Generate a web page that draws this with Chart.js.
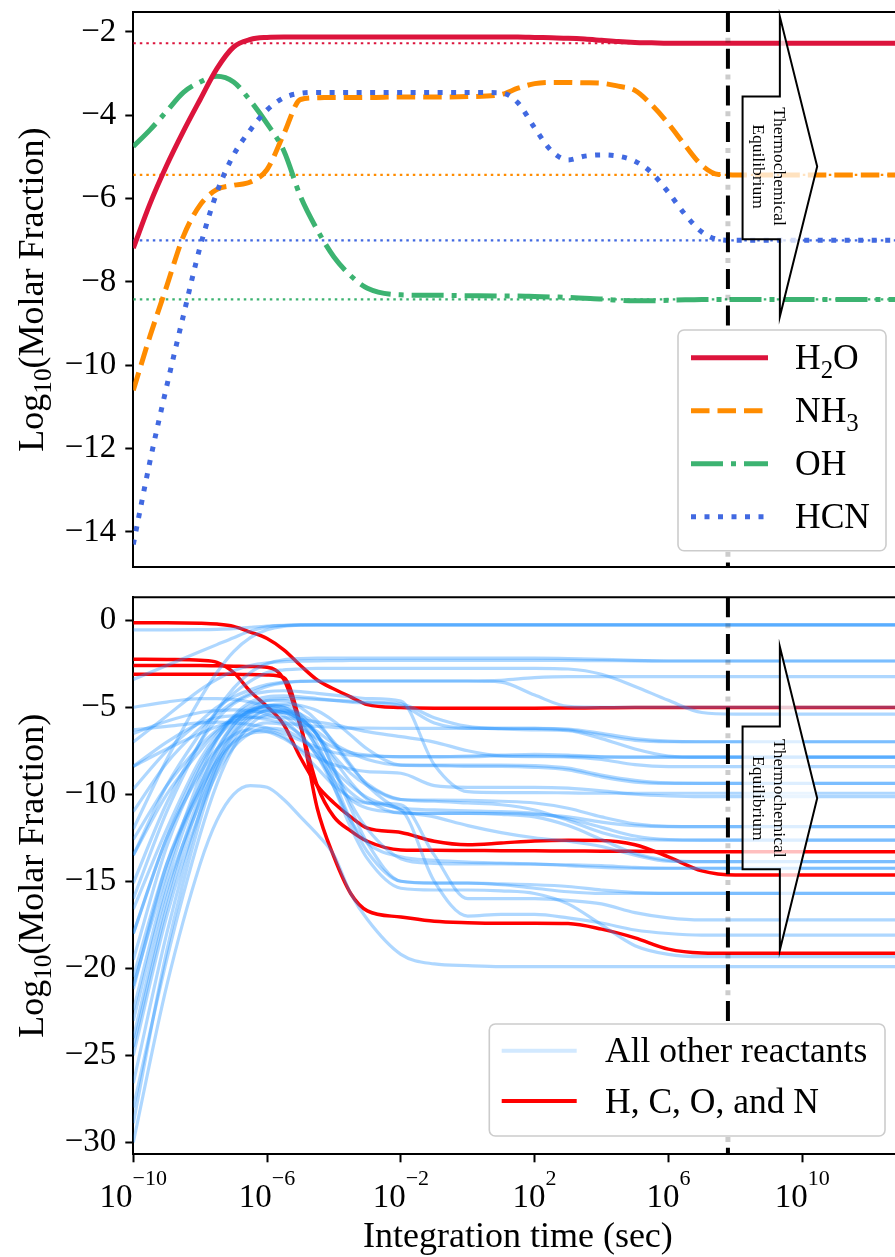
<!DOCTYPE html>
<html>
<head>
<meta charset="utf-8">
<title>Molar fraction vs integration time</title>
<script src="https://cdn.jsdelivr.net/npm/chart.js@4.4.1/dist/chart.umd.min.js"></script>
<style>
  html, body { margin: 0; padding: 0; background: #fff; overflow: hidden; }
  #wrap { position: relative; width: 910px; height: 1257px; }
  canvas { position: absolute; left: 0; }
  #topChart { top: 0; }
  #bottomChart { top: 582px; }
</style>
</head>
<body>
<div id="wrap">
  <canvas id="topChart" width="910" height="582"></canvas>
  <canvas id="bottomChart" width="910" height="675"></canvas>
</div>
<script>
// ---------- data (time given as log10 of seconds) ----------
const xTickExps = [-10, -6, -2, 2, 6, 10];
const yTicksTop = [-14, -12, -10, -8, -6, -4, -2];
const yTicksBottom = [-30, -25, -20, -15, -10, -5, 0];

// top panel: selected species
const tTop = [-10, -9.5, -9, -8.5, -8, -7.5, -7, -6.5, -6, -5.5, -5, -4.5, -4, -3.5, -3,
  -2, -1, 0, 1, 1.5, 2, 2.5, 3, 3.5, 4, 4.5, 5, 5.5, 6, 6.5, 7, 7.5, 8, 13];
const h2o = [-7.19, -6.12, -5.2, -4.38, -3.62, -2.88, -2.36, -2.18, -2.13, -2.12, -2.12, -2.12, -2.12, -2.12, -2.12,
  -2.12, -2.12, -2.12, -2.12, -2.12, -2.13, -2.14, -2.15, -2.17, -2.2, -2.23, -2.25, -2.26, -2.27, -2.27, -2.27, -2.27, -2.27, -2.27];
const nh3 = [-10.6, -9.3, -8.1, -6.9, -6.15, -5.78, -5.68, -5.6, -5.3, -4.45, -3.62, -3.58, -3.57, -3.57, -3.57,
  -3.56, -3.56, -3.55, -3.5, -3.35, -3.24, -3.21, -3.21, -3.22, -3.23, -3.3, -3.4, -3.75, -4.2, -4.72, -5.2, -5.42, -5.43, -5.43];
const oh = [-4.75, -4.35, -3.9, -3.45, -3.2, -3.06, -3.2, -3.65, -4.2, -4.85, -5.95, -6.75, -7.4, -7.85, -8.15,
  -8.31, -8.32, -8.33, -8.34, -8.34, -8.35, -8.36, -8.37, -8.39, -8.41, -8.44, -8.45, -8.45, -8.44, -8.43, -8.42, -8.42, -8.42, -8.42];
const hcn = [-14.3, -12.3, -10.5, -8.8, -7.15, -5.85, -4.95, -4.35, -3.87, -3.58, -3.47, -3.45, -3.45, -3.45, -3.45,
  -3.45, -3.45, -3.45, -3.46, -3.7, -4.3, -4.85, -5.07, -4.98, -4.95, -4.98, -5.1, -5.38, -5.85, -6.38, -6.8, -6.98, -7.0, -7.0];
// equilibrium levels for H2O, NH3, OH, HCN
const eqLevels = [-2.27, -5.43, -8.42, -7.0];
const eqTime = 7.78;

// bottom panel: every reactant
const tBottom = [-10, -9, -8, -7.5, -7, -6.5, -6, -5.5, -5, -4.5, -4, -3.5, -3, -2, -1, 0, 1, 2, 3, 4, 5, 6, 7, 8, 13];
const hconLines = [
  [-0.14, -0.14, -0.17, -0.22, -0.35, -0.68, -1.05, -1.7, -2.6, -3.43, -3.95, -4.4, -4.85, -5.02, -5.05, -5.05, -5.05, -5.05, -5.04, -5.03, -5.02, -5.02, -5.02, -5.02, -5.02],
  [-2.24, -2.25, -2.3, -2.42, -3.0, -4.1, -4.95, -6.0, -7.9, -9.5, -10.5, -11.3, -11.95, -12.2, -12.7, -12.9, -12.8, -12.68, -12.64, -12.65, -12.9, -13.6, -14.4, -14.64, -14.64],
  [-2.6, -2.6, -2.6, -2.62, -2.64, -2.66, -2.7, -3.4, -6.1, -9.5, -11.3, -12.1, -12.7, -13.2, -13.22, -13.23, -13.24, -13.25, -13.26, -13.27, -13.28, -13.3, -13.3, -13.3, -13.3],
  [-3.1, -3.1, -3.1, -3.1, -3.1, -3.12, -3.15, -3.3, -6.0, -10.8, -13.6, -15.7, -16.7, -17.05, -17.3, -17.38, -17.41, -17.41, -17.43, -17.75, -18.25, -18.9, -19.12, -19.14, -19.14]
];
const otherLines = [
  [-0.55, -0.55, -0.54, -0.52, -0.48, -0.4, -0.33, -0.29, -0.27, -0.27, -0.27, -0.27, -0.27, -0.27, -0.27, -0.27, -0.27, -0.27, -0.27, -0.27, -0.27, -0.27, -0.27, -0.27, -0.27],
  [-3.4, -2.6, -1.8, -1.4, -1.0, -0.62, -0.38, -0.3, -0.27, -0.27, -0.27, -0.27, -0.27, -0.27, -0.27, -0.27, -0.27, -0.27, -0.27, -0.27, -0.27, -0.27, -0.27, -0.27, -0.27],
  [-16, -11, -7, -5.2, -3.9, -3.0, -2.5, -2.27, -2.2, -2.18, -2.18, -2.18, -2.18, -2.18, -2.18, -2.18, -2.18, -2.18, -2.2, -2.25, -2.3, -2.34, -2.34, -2.34, -2.34],
  [-13.5, -9.5, -6.5, -5.2, -4.2, -3.5, -3.0, -2.85, -2.8, -2.77, -2.76, -2.76, -2.76, -2.76, -2.76, -2.76, -2.76, -2.76, -2.8, -3.1, -3.8, -4.6, -5.3, -5.39, -5.39],
  [-9.7, -7.5, -5.8, -5.0, -4.4, -4.0, -3.7, -3.55, -3.5, -3.49, -3.49, -3.49, -3.49, -3.49, -3.49, -3.49, -3.45, -3.3, -3.24, -3.24, -3.24, -3.24, -3.24, -3.24, -3.24],
  [-11, -8.2, -6.2, -5.4, -4.7, -4.2, -3.8, -3.6, -3.52, -3.5, -3.49, -3.49, -3.49, -3.49, -3.49, -3.49, -3.55, -4.3, -4.95, -5.0, -5.0, -5.0, -5.0, -5.0, -5.0],
  [-19.5, -13, -8.5, -6.8, -5.5, -4.7, -4.4, -4.35, -4.4, -4.5, -4.6, -4.7, -4.75, -4.9, -5.9, -6.2, -6.21, -6.21, -6.25, -6.5, -6.8, -6.95, -6.98, -6.98, -6.98],
  [-21.2, -14, -9.5, -7.5, -6, -5.1, -4.6, -4.5, -4.5, -4.55, -4.6, -4.65, -4.7, -4.8, -5.6, -6.1, -6.25, -6.3, -6.35, -6.8, -7.4, -7.8, -7.87, -7.87, -7.87],
  [-15.1, -10.5, -7, -5.7, -4.8, -4.3, -4.1, -4.05, -4.1, -4.2, -4.3, -4.4, -4.5, -4.65, -8.3, -9.85, -9.9, -9.9, -9.92, -9.94, -9.94, -9.94, -9.94, -9.94, -9.94],
  [-8.4, -7.4, -6.5, -6.1, -5.8, -5.6, -5.55, -5.6, -5.7, -5.85, -6.0, -6.2, -6.4, -6.69, -7.0, -7.5, -7.8, -7.84, -7.86, -8.0, -8.3, -8.41, -8.41, -8.41, -8.41],
  [-6.3, -6.1, -5.9, -5.85, -5.9, -6.0, -6.2, -6.5, -6.9, -7.3, -7.6, -7.75, -7.8, -7.84, -7.84, -7.8, -7.75, -7.7, -7.75, -7.85, -7.87, -7.87, -7.87, -7.87, -7.87],
  [-16.6, -12, -8.0, -6.6, -5.6, -5.1, -5.0, -5.2, -5.7, -6.4, -7.1, -7.6, -8.0, -8.32, -8.32, -8.32, -8.32, -8.35, -8.5, -8.9, -9.2, -9.35, -9.37, -9.37, -9.37],
  [-18, -12.5, -8.8, -7.4, -6.6, -6.3, -6.4, -6.8, -7.4, -7.9, -8.3, -8.55, -8.7, -8.79, -9.5, -9.6, -9.6, -9.6, -9.65, -9.8, -10.0, -10.1, -10.14, -10.14, -10.14],
  [-22.4, -15, -9.5, -7.4, -6.0, -5.2, -4.9, -5.0, -5.6, -6.6, -7.8, -8.8, -9.5, -10.3, -10.33, -10.35, -10.4, -10.5, -10.8, -11.3, -11.7, -11.85, -11.86, -11.86, -11.86],
  [-25, -17, -11, -8.8, -7.3, -6.5, -6.2, -6.3, -6.8, -7.6, -8.6, -9.5, -10.2, -10.8, -10.9, -10.95, -11.0, -11.1, -11.4, -11.9, -12.4, -12.6, -12.63, -12.63, -12.63],
  [-28.9, -19, -11.5, -8.6, -6.8, -5.7, -5.2, -5.2, -5.6, -6.6, -8.0, -9.3, -10.3, -11.09, -11.1, -11.1, -11.15, -11.3, -11.8, -12.6, -13.4, -13.8, -13.87, -13.87, -13.87],
  [-13.5, -10, -7.5, -6.4, -5.7, -5.3, -5.2, -5.3, -5.7, -6.6, -8.5, -10.5, -12, -13.7, -13.97, -14.0, -14.0, -14.02, -14.05, -14.1, -14.2, -14.25, -14.25, -14.25, -14.25],
  [-26.6, -18, -11, -8.3, -6.5, -5.4, -4.9, -4.9, -5.4, -6.6, -8.6, -10.8, -12.8, -15.0, -15.11, -15.11, -15.15, -15.2, -15.3, -15.5, -15.65, -15.69, -15.69, -15.69, -15.69],
  [-20.5, -14, -9.8, -8.1, -7.0, -6.5, -6.4, -6.7, -7.5, -8.5, -9.5, -10.2, -10.5, -10.6, -13.5, -16.0, -16.0, -16.0, -16.1, -16.3, -16.8, -17.1, -17.22, -17.22, -17.22],
  [-24.5, -16.5, -10.3, -8, -6.5, -5.6, -5.2, -5.3, -6.0, -7.3, -8.8, -9.9, -10.5, -10.9, -15.0, -17.0, -16.9, -16.9, -17.1, -17.4, -17.8, -18.0, -18.09, -18.09, -18.09],
  [-30, -21, -14, -11.5, -10, -9.5, -9.6, -10.3, -11.3, -12.3, -13.5, -15.7, -17.2, -19.2, -19.75, -19.85, -19.9, -19.9, -19.9, -19.9, -19.9, -19.9, -19.9, -19.9, -19.9],
  [-24, -16, -10, -7.8, -6.2, -5.3, -4.9, -5.0, -5.8, -7.4, -9.6, -11.9, -13.7, -15.4, -15.5, -15.5, -15.55, -15.7, -16.3, -17.5, -18.7, -19.2, -19.33, -19.33, -19.33],
  [-7, -5.5, -4.0, -3.4, -2.9, -2.6, -2.45, -2.38, -2.35, -2.33, -2.32, -2.31, -2.3, -2.3, -2.3, -2.3, -2.3, -2.3, -2.31, -2.32, -2.33, -2.34, -2.34, -2.34, -2.34],
  [-12, -8, -4.5, -3, -1.8, -1.0, -0.55, -0.35, -0.28, -0.27, -0.27, -0.27, -0.27, -0.27, -0.27, -0.27, -0.27, -0.27, -0.27, -0.27, -0.27, -0.27, -0.27, -0.27, -0.27],
  [-8.4, -7, -5.9, -5.6, -5.5, -5.55, -5.7, -5.9, -6.0, -6.1, -6.15, -6.2, -6.2, -6.21, -6.21, -6.21, -6.21, -6.21, -6.3, -6.6, -6.9, -6.98, -6.98, -6.98, -6.98],
  [-5, -4.7, -4.5, -4.5, -4.55, -4.7, -5.0, -5.5, -6.2, -6.8, -7.3, -7.6, -7.75, -7.85, -7.85, -7.85, -7.8, -7.8, -7.82, -7.85, -7.87, -7.87, -7.87, -7.87, -7.87],
  [-6.5, -5.8, -5.3, -5.2, -5.15, -5.2, -5.4, -5.8, -6.6, -7.8, -9.2, -10.3, -10.8, -11.05, -11.1, -11.1, -11.1, -11.15, -11.3, -11.6, -11.8, -11.86, -11.86, -11.86, -11.86],
  [-12.6, -9.5, -7.2, -6.3, -5.6, -5.2, -5.1, -5.15, -5.4, -6, -7, -8.3, -9.5, -10.9, -11.3, -11.8, -12.2, -12.5, -12.7, -13.0, -13.5, -13.85, -13.87, -13.87, -13.87],
  [-18, -12.5, -8.3, -6.8, -5.8, -5.2, -4.9, -4.8, -4.9, -5.2, -5.8, -6.6, -7.4, -8.32, -8.35, -8.4, -8.4, -8.45, -8.6, -9.0, -9.3, -9.37, -9.37, -9.37, -9.37],
  [-21, -14.5, -9.0, -6.9, -5.6, -4.9, -4.6, -4.6, -5.0, -5.8, -7.1, -8.4, -9.4, -10.3, -10.4, -10.5, -10.6, -10.9, -11.5, -12.2, -12.6, -12.63, -12.63, -12.63, -12.63],
  [-23, -15.5, -10.5, -8.4, -7.0, -6.2, -5.9, -6.0, -6.6, -7.8, -9.6, -11.5, -12.8, -13.6, -13.8, -13.9, -13.95, -14.0, -14.1, -14.2, -14.25, -14.25, -14.25, -14.25, -14.25],
  [-28, -19.5, -12.3, -9.4, -7.3, -6.0, -5.4, -5.3, -5.8, -7.1, -9.2, -11.5, -13.3, -15.0, -15.1, -15.1, -15.2, -15.4, -15.6, -15.7, -15.69, -15.69, -15.69, -15.69, -15.69]
];

// ---------- styling ----------
const SERIF = "'Liberation Serif', 'Times New Roman', Times, serif";
const font = px => px + 'px ' + SERIF;
const TICK_SIZE = 33, LABEL_SIZE = 36, LEGEND_SIZE = 35.5;
const X_MIN = -10, X_MAX = 13;

const topStyles = [
  { parts: [['H'], ['2', 'sub'], ['O']], color: '#DC143C', dash: [], order: 2 },
  { parts: [['NH'], ['3', 'sub']], color: '#FF8C00', dash: [18.5, 8], order: 4 },
  { parts: [['OH']], color: '#3CB371', dash: [32, 8, 5, 8], order: 3 },
  { parts: [['HCN']], color: '#4169E1', dash: [5, 8.5], order: 1 }
];
const OTHER_COLOR = 'rgba(30,144,255,0.36)';
const HCON_COLOR = '#ff0000';

const xy = (times, vals) => times.map((e, i) => ({ x: Math.pow(10, e), y: vals[i] }));

// ---------- drawing helpers ----------
function runWidth(ctx, parts, size) {
  let w = 0;
  for (const [txt, kind] of parts) {
    ctx.font = font(kind ? size * 0.7 : size);
    w += ctx.measureText(txt).width;
  }
  return w;
}

function drawRun(ctx, parts, x, y, size) {
  ctx.textAlign = 'left';
  ctx.textBaseline = 'alphabetic';
  for (const [txt, kind] of parts) {
    const s = kind ? size * 0.7 : size;
    const dy = kind === 'sub' ? size * 0.23 : 0;
    ctx.font = font(s);
    ctx.fillText(txt, x, y + dy);
    x += ctx.measureText(txt).width;
  }
}

function drawEqLine(chart) {
  const { ctx, chartArea: a, scales } = chart;
  const x = scales.x.getPixelForValue(Math.pow(10, eqTime));
  ctx.save();
  ctx.lineWidth = 5;
  ctx.strokeStyle = 'rgba(0,0,0,0.2)';
  ctx.setLineDash([5, 31.7]);
  ctx.lineDashOffset = 10.85;
  ctx.beginPath(); ctx.moveTo(x, a.top); ctx.lineTo(x, a.bottom); ctx.stroke();
  ctx.lineWidth = 4;
  ctx.strokeStyle = '#000';
  ctx.setLineDash([20, 16.7]);
  ctx.lineDashOffset = 0;
  ctx.beginPath(); ctx.moveTo(x, a.top); ctx.lineTo(x, a.bottom); ctx.stroke();
  ctx.restore();
}

function drawArrow(chart, ar) {
  const { ctx, scales } = chart;
  const X = e => scales.x.getPixelForValue(Math.pow(10, e));
  const Y = v => scales.y.getPixelForValue(v);
  ctx.save();
  ctx.beginPath();
  ctx.moveTo(X(ar.x0), Y(ar.shaftTop));
  ctx.lineTo(X(ar.x1), Y(ar.shaftTop));
  ctx.lineTo(X(ar.x1), Y(ar.headTop));
  ctx.lineTo(X(ar.x2), Y(ar.tip));
  ctx.lineTo(X(ar.x1), Y(ar.headBot));
  ctx.lineTo(X(ar.x1), Y(ar.shaftBot));
  ctx.lineTo(X(ar.x0), Y(ar.shaftBot));
  ctx.closePath();
  ctx.fillStyle = 'rgba(255,255,255,0.75)';
  ctx.fill();
  ctx.lineWidth = 2;
  ctx.lineJoin = 'miter';
  ctx.strokeStyle = '#000';
  ctx.stroke();
  // rotated caption
  ctx.translate(X(ar.textX), Y(ar.tip));
  ctx.rotate(Math.PI / 2);
  ctx.fillStyle = '#000';
  ctx.font = font(17.5);
  ctx.textAlign = 'center';
  ctx.textBaseline = 'middle';
  ctx.fillText('Thermochemical', 0, -10.6);
  ctx.fillText('Equilibrium', 0, 10.6);
  ctx.restore();
}

function roundRectPath(ctx, x, y, w, h, r) {
  ctx.beginPath();
  ctx.moveTo(x + r, y);
  ctx.arcTo(x + w, y, x + w, y + h, r);
  ctx.arcTo(x + w, y + h, x, y + h, r);
  ctx.arcTo(x, y + h, x, y, r);
  ctx.arcTo(x, y, x + w, y, r);
  ctx.closePath();
}

function drawLegend(chart, lg) {
  const { ctx, chartArea: a } = chart;
  const left = a.right - lg.right - lg.w;
  const top = a.bottom - lg.bottom - lg.h;
  ctx.save();
  roundRectPath(ctx, left, top, lg.w, lg.h, 6);
  ctx.fillStyle = '#fff';
  ctx.fill();
  ctx.lineWidth = 1.6;
  ctx.strokeStyle = '#cccccc';
  ctx.stroke();
  lg.items.forEach((it, i) => {
    const y = top + lg.row0 + i * lg.step;
    ctx.beginPath();
    ctx.setLineDash(it.dash || []);
    ctx.lineWidth = it.width;
    ctx.strokeStyle = it.color;
    ctx.moveTo(left + lg.lineX, y);
    ctx.lineTo(left + lg.lineX + lg.lineLen, y);
    ctx.stroke();
    ctx.setLineDash([]);
    ctx.fillStyle = '#000';
    drawRun(ctx, it.parts, left + lg.textX, y + 0.33 * LEGEND_SIZE, LEGEND_SIZE);
  });
  ctx.restore();
}

function drawFrameAndTitles(chart, withXLabels) {
  const { ctx, chartArea: a, scales } = chart;
  ctx.save();
  // top and right spines
  ctx.strokeStyle = '#000';
  ctx.lineWidth = 2;
  ctx.beginPath();
  ctx.moveTo(a.left, a.top);
  ctx.lineTo(a.right, a.top);
  ctx.lineTo(a.right, a.bottom);
  ctx.stroke();

  // y title, rotated
  const yParts = [['Log'], ['10', 'sub'], ['(Molar Fraction)']];
  ctx.fillStyle = '#000';
  const w = runWidth(ctx, yParts, LABEL_SIZE);
  ctx.save();
  ctx.translate(43, (a.top + a.bottom) / 2);
  ctx.rotate(-Math.PI / 2);
  drawRun(ctx, yParts, -w / 2, 0, LABEL_SIZE);
  ctx.restore();

  if (withXLabels) {
    // power-of-ten tick labels
    const base = a.bottom + 52.4;
    xTickExps.forEach(e => {
      const px = scales.x.getPixelForValue(Math.pow(10, e));
      const sup = (e < 0 ? '\u2212' : '') + Math.abs(e);
      ctx.font = font(TICK_SIZE);
      const wb = ctx.measureText('10').width;
      ctx.font = font(22);
      const ws = ctx.measureText(sup).width;
      const x0 = px - (wb + ws) / 2;
      ctx.textAlign = 'left';
      ctx.textBaseline = 'alphabetic';
      ctx.font = font(TICK_SIZE);
      ctx.fillText('10', x0, base);
      ctx.font = font(22);
      ctx.fillText(sup, x0 + wb, base - 21.7);
    });
    ctx.font = font(LABEL_SIZE);
    ctx.textAlign = 'center';
    ctx.fillText('Integration time (sec)', (a.left + a.right) / 2, a.bottom + 92.7);
  }
  ctx.restore();
}

function panelDecor(opts) {
  return {
    id: 'panelDecor',
    afterDatasetsDraw(chart) {
      drawEqLine(chart);
      drawArrow(chart, opts.arrow);
      drawLegend(chart, opts.legend);
    },
    afterDraw(chart) {
      drawFrameAndTitles(chart, opts.xLabels);
    }
  };
}

function yAxis(min, max, ticks) {
  return {
    type: 'linear',
    min: min, max: max,
    bounds: 'data',
    afterBuildTicks: s => { s.ticks = ticks.map(v => ({ value: v })); },
    afterFit: s => { s.width = 133.3; s.paddingTop = 0; s.paddingBottom = 0; },
    ticks: {
      color: '#000',
      font: { family: SERIF, size: TICK_SIZE },
      padding: 9,
      callback: v => (v < 0 ? '\u2212' + Math.abs(v) : String(v))
    },
    grid: { display: true, drawOnChartArea: false, drawTicks: true, tickLength: 8, tickWidth: 2, tickColor: '#000', color: '#000' },
    border: { display: true, color: '#000', width: 2 }
  };
}

function xAxis(showTicks, height) {
  return {
    type: 'logarithmic',
    min: Math.pow(10, X_MIN), max: Math.pow(10, X_MAX),
    bounds: 'data',
    afterBuildTicks: s => { s.ticks = xTickExps.map(e => ({ value: Math.pow(10, e) })); },
    afterFit: s => { s.height = height; s.paddingLeft = 0; s.paddingRight = 0; },
    ticks: { display: false },
    grid: showTicks
      ? { display: true, drawOnChartArea: false, drawTicks: true, tickLength: 8, tickWidth: 2, tickColor: '#000', color: '#000' }
      : { display: false },
    border: { display: true, color: '#000', width: 2 }
  };
}

const baseOptions = {
  responsive: false,
  animation: false,
  devicePixelRatio: 1,
  events: [],
  plugins: { legend: { display: false }, tooltip: { enabled: false } },
  elements: { point: { radius: 0 }, line: { cubicInterpolationMode: 'monotone', fill: false } }
};

// ---------- top panel ----------
const topSets = [];
const topSeries = [h2o, nh3, oh, hcn];
topSeries.forEach((vals, i) => {
  const st = topStyles[i];
  topSets.push({
    data: xy(tTop, vals),
    borderColor: st.color, borderWidth: 5, borderDash: st.dash, order: st.order
  });
  topSets.push({
    data: xy([X_MIN, X_MAX], [eqLevels[i], eqLevels[i]]),
    borderColor: st.color, borderWidth: 2.2, borderDash: [2.5, 4], order: 10
  });
});

new Chart(document.getElementById('topChart'), {
  type: 'line',
  data: { datasets: topSets },
  options: Object.assign({}, baseOptions, {
    layout: { autoPadding: false, padding: { left: 0, top: 12, right: 7.5, bottom: 14.7 } },
    scales: { x: xAxis(false, 0), y: yAxis(-14.85, -1.52, yTicksTop) }
  }),
  plugins: [panelDecor({
    xLabels: false,
    arrow: { x0: 8.218, x1: 9.333, x2: 10.449, textX: 8.99,
             shaftTop: -3.55, shaftBot: -6.975, headTop: -1.63, tip: -5.23, headBot: -8.83 },
    legend: {
      right: 16.5, bottom: 16.6, w: 208, h: 220.7, row0: 27.7, step: 53,
      lineX: 13, lineLen: 77, textX: 117,
      items: topStyles.map(st => ({ parts: st.parts, color: st.color, dash: st.dash, width: 5 }))
    }
  })]
});

// ---------- bottom panel ----------
const bottomSets = [];
hconLines.forEach(vals => bottomSets.push({
  data: xy(tBottom, vals), borderColor: HCON_COLOR, borderWidth: 3.5, order: 2
}));
otherLines.forEach(vals => bottomSets.push({
  data: xy(tBottom, vals), borderColor: OTHER_COLOR, borderWidth: 3.2, order: 1
}));

new Chart(document.getElementById('bottomChart'), {
  type: 'line',
  data: { datasets: bottomSets },
  options: Object.assign({}, baseOptions, {
    layout: { autoPadding: false, padding: { left: 0, top: 15.3, right: 7.5, bottom: 0 } },
    scales: { x: xAxis(true, 102.7), y: yAxis(-30.69, 1.32, yTicksBottom) }
  }),
  plugins: [panelDecor({
    xLabels: true,
    arrow: { x0: 8.218, x1: 9.333, x2: 10.449, textX: 8.99,
             shaftTop: -6.11, shaftBot: -14.31, headTop: -1.52, tip: -10.23, headBot: -18.95 },
    legend: {
      right: 17.5, bottom: 18.3, w: 395.7, h: 112, row0: 26.7, step: 50.3,
      lineX: 12.4, lineLen: 75, textX: 115.7,
      items: [
        { parts: [['All other reactants']], color: 'rgba(30,144,255,0.2)', dash: [], width: 4 },
        { parts: [['H, C, O, and N']], color: HCON_COLOR, dash: [], width: 4 }
      ]
    }
  })]
});
</script>
</body>
</html>
